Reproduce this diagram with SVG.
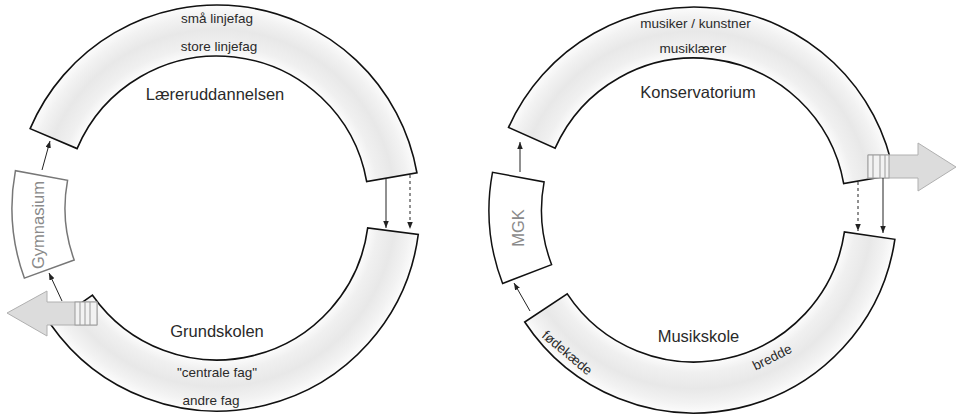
<svg xmlns="http://www.w3.org/2000/svg" width="957" height="414" viewBox="0 0 957 414">
<style>
.band{stroke:#111;stroke-width:1.6;stroke-linejoin:miter}
.box{fill:#fff;stroke-width:1.5}
.t{font-family:"Liberation Sans",Arial,sans-serif;fill:#2a2a2a;text-anchor:middle}
.s{font-size:13.5px}
.b{font-size:16.5px}
.g{fill:#8a8a8a}
.con{stroke:#222;stroke-width:1;fill:none}
.dash{stroke-dasharray:3,3}
.big{fill:#dcdcdc;stroke:#b0b0b0;stroke-width:1}
.stripe{fill:#f2f2f2;stroke:#9a9a9a;stroke-width:1}
</style>
<defs>
<radialGradient id="gL" gradientUnits="userSpaceOnUse" cx="217" cy="208" r="203">
<stop offset="0.74" stop-color="#fefefe"/>
<stop offset="0.80" stop-color="#f0f0f0"/>
<stop offset="0.88" stop-color="#e8e8e8"/>
<stop offset="0.95" stop-color="#f2f2f2"/>
<stop offset="1" stop-color="#fcfcfc"/>
</radialGradient>
<radialGradient id="gR" gradientUnits="userSpaceOnUse" cx="694" cy="210" r="203">
<stop offset="0.74" stop-color="#fefefe"/>
<stop offset="0.80" stop-color="#f0f0f0"/>
<stop offset="0.88" stop-color="#e8e8e8"/>
<stop offset="0.95" stop-color="#f2f2f2"/>
<stop offset="1" stop-color="#fcfcfc"/>
</radialGradient>
<marker id="ah" markerUnits="userSpaceOnUse" markerWidth="8" markerHeight="6" refX="7" refY="2.75" orient="auto">
<path d="M0,0 L7,2.75 L0,5.5 z" fill="#222"/>
</marker>
</defs>
<rect width="957" height="414" fill="#fff"/>

<g id="laereruddannelsen">
<path class="band" fill="url(#gL)" d="M30.14,128.68 A203,203 0 0 1 416.92,172.75 L366.69,181.61 A152,152 0 0 0 77.08,148.61 Z"/>
<text class="t s" x="217" y="23">små linjefag</text>
<text class="t s" x="219" y="51">store linjefag</text>
<text class="t b" x="215" y="100">Læreruddannelsen</text>
</g>

<g id="grundskolen">
<path class="band" fill="url(#gL)" d="M418.26,234.5 A203,203 0 0 1 50.71,324.44 L92.49,295.18 A152,152 0 0 0 367.7,227.84 Z"/>
<text class="t b" x="217" y="337">Grundskolen</text>
<text class="t s" x="217" y="377">"centrale fag"</text>
<text class="t s" x="211" y="405">andre fag</text>
</g>

<g id="gymnasium">
<path class="box" stroke="#777" d="M24.36,278.11 A205,205 0 0 1 15.43,170.64 L67.55,180.3 A152,152 0 0 0 74.17,259.99 Z"/>
<text class="t b g" transform="translate(43.5,225) rotate(-90)">Gymnasium</text>
</g>

<g id="exit-left">
<polygon class="big" points="7,313 47,291 47,302 97,302 97,325 47,325 47,336"/>
<rect class="stripe" x="75" y="302" width="22" height="23"/>
<line class="stripe" x1="80" y1="302" x2="80" y2="325"/>
<line class="stripe" x1="85" y1="302" x2="85" y2="325"/>
<line class="stripe" x1="90" y1="302" x2="90" y2="325"/>
</g>

<g id="konservatorium">
<path class="band" fill="url(#gR)" d="M508.55,127.43 A203,203 0 0 1 893.92,174.75 L843.69,183.61 A152,152 0 0 0 555.14,148.18 Z"/>
<text class="t s" x="695.5" y="28">musiker / kunstner</text>
<text class="t s" x="693" y="53">musiklærer</text>
<text class="t b" x="698" y="98">Konservatorium</text>
</g>

<g id="musikskole">
<path class="band" fill="url(#gR)" d="M894.87,239.31 A203,203 0 0 1 524.72,322.04 L567.25,293.89 A152,152 0 0 0 844.41,231.94 Z"/>
<text class="t b" x="698.5" y="342">Musikskole</text>
<text class="t s" transform="translate(564.3,356.3) rotate(40)">fødekæde</text>
<text class="t s" transform="translate(774.2,361.4) rotate(-26.6)">bredde</text>
</g>

<g id="mgk">
<path class="box" stroke="#111" d="M502.62,283.47 A205,205 0 0 1 492.5,172.29 L544.1,181.95 A152.5,152.5 0 0 0 551.63,264.65 Z"/>
<text class="t b g" transform="translate(523.5,228) rotate(-90)">MGK</text>
</g>

<g id="exit-right">
<polygon class="big" points="868,155 918,155 918,143 956,167 918,191 918,178 868,178"/>
<rect class="stripe" x="868" y="155" width="21" height="23"/>
<line class="stripe" x1="873" y1="155" x2="873" y2="178"/>
<line class="stripe" x1="880" y1="155" x2="880" y2="178"/>
<line class="stripe" x1="885" y1="155" x2="885" y2="178"/>
</g>

<g id="connectors">
<line class="con" x1="386" y1="179" x2="386" y2="228" marker-end="url(#ah)"/>
<line class="con dash" x1="410" y1="175" x2="410" y2="229" marker-end="url(#ah)"/>
<line class="con" x1="42" y1="170" x2="50" y2="141" marker-end="url(#ah)"/>
<line class="con" x1="62" y1="301" x2="49" y2="273" marker-end="url(#ah)"/>
<line class="con" x1="520" y1="172" x2="520" y2="142" marker-end="url(#ah)"/>
<line class="con" x1="530" y1="311" x2="514" y2="283" marker-end="url(#ah)"/>
<line class="con dash" x1="858" y1="182" x2="858" y2="231" marker-end="url(#ah)"/>
<line class="con" x1="883" y1="178" x2="883" y2="233" marker-end="url(#ah)"/>
</g>
</svg>
